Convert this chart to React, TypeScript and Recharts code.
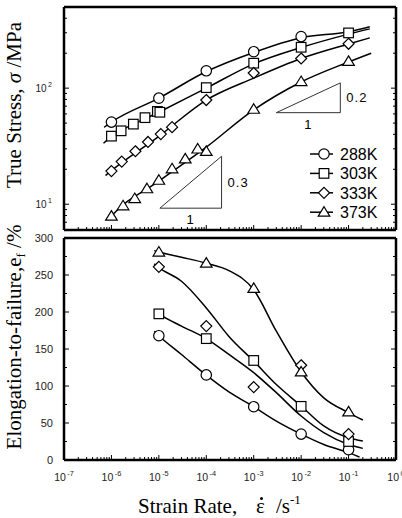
import React from 'react';
import { ComposedChart, Line, Scatter, XAxis, YAxis, ReferenceLine, ReferenceDot, Legend } from 'recharts';

const SANS = '"Liberation Sans", Arial, sans-serif';
const SERIF = '"Liberation Serif", "Times New Roman", serif';

const temps = ['288K', '303K', '333K', '373K'];
const kinds = ['circle', 'square', 'diamond', 'triangle'];

// top panel: true stress (MPa), measured points
const stress288X = [1e-6, 1e-5, 1e-4, 1e-3, 1e-2];
const stress288Y = [51, 82, 141, 206, 278];
const stress303X = [1e-6, 1.6e-6, 2.9e-6, 5.1e-6, 9.3e-6, 1.05e-5, 1e-4, 1e-3, 1e-2, 1e-1];
const stress303Y = [38.6, 42.9, 49, 55.7, 63, 62, 101, 164, 225, 299];
const stress333X = [1e-6, 1.65e-6, 3.2e-6, 5.9e-6, 1.1e-5, 1.9e-5, 1e-4, 1e-3, 1e-2, 1e-1];
const stress333Y = [19.3, 23.3, 28.6, 34.4, 40.2, 46.1, 79, 135, 180, 241];
const stress373X = [1e-6, 1.76e-6, 3.1e-6, 5.6e-6, 1e-5, 1.9e-5, 3.6e-5, 6.6e-5, 1e-4, 1e-3, 1e-2, 1e-1];
const stress373Y = [7.9, 9.7, 11.2, 13.6, 16.1, 20.2, 24.6, 29.9, 28.5, 65.8, 114, 170];

// top panel: fitted curves
const fit288TopX = [7e-7, 1e-6, 1e-5, 1e-4, 1e-3, 1e-2, 1e-1, 0.28];
const fit288TopY = [46, 51, 82, 139, 203, 272, 306, 338];
const fit303TopX = [6.8e-7, 1e-6, 1e-5, 1e-4, 1e-3, 1e-2, 1e-1, 0.28];
const fit303TopY = [33.5, 38, 62, 100, 162, 224, 292, 324];
const fit333TopX = [7.5e-7, 1e-6, 1e-5, 1e-4, 1e-3, 1e-2, 1e-1, 0.28];
const fit333TopY = [17.7, 19.5, 38.5, 79, 122, 180, 240, 271];
const fit373TopX = [8.5e-7, 1e-6, 1e-5, 1e-4, 1e-3, 1e-2, 1e-1, 0.3];
const fit373TopY = [7.3, 7.9, 15.8, 31, 65, 113, 168, 200];

// bottom panel: elongation-to-failure (%), measured points
const elongX = [1e-5, 1e-4, 1e-3, 1e-2, 1e-1];
const elong288 = [168, 115, 72, 35, 14];
const elong303 = [197.5, 164, 134.5, 72.5, 25];
const elong333 = [261, 181, 98.5, 128, 35];
const elong373 = [281, 266, 232, 119, 65];

// bottom panel: fitted curves
const fitBotX = [8e-6, 1e-5, 3e-5, 1e-4, 3e-4, 1e-3, 3e-3, 1e-2, 3e-2, 1e-1, 0.2];
const fit288BotX = [8e-6, 1e-5, 3e-5, 1e-4, 3e-4, 1e-3, 3e-3, 1e-2, 3e-2, 1e-1, 0.17];
const fit288Bot = [174, 168, 142.6, 114.7, 92, 72, 52.6, 35, 21, 10, 4];
const fit303Bot = [202, 197.5, 181, 164, 142.6, 118, 91, 59.4, 37, 21, 15.7];
const fit333Bot = [265, 260, 241.5, 205.5, 167, 133.6, 102, 73, 46, 30, 25.6];
const fit373Bot = [283, 281, 274, 266, 256, 230, 174, 119, 84, 64, 54];

// slope triangles
const tri02 = { x1: 3e-3, x2: 6.7e-2, y1: 61.5, y2: 111, xm: 1.42e-2, ym: 82.5 };
const tri03 = { x1: 1.05e-5, x2: 2.1e-4, y1: 9.25, y2: 25.9, xm: 4.7e-5, ym: 15.5 };

// tick values
const xDomain: [number, number] = [1e-7, 1];
const xTicks: number[] = [];
for (let e = -7; e < 0; e++) for (let k = 1; k < 10; k++) xTicks.push(Number((k * 10 ** e).toPrecision(2)));
xTicks.push(1);
const stressTicks = [6, 7, 8, 9, 10, 20, 30, 40, 50, 60, 70, 80, 90, 100, 200, 300, 400];
const elongTicks = [0, 25, 50, 75, 100, 125, 150, 175, 200, 225, 250, 275, 300];
const elongLabels = [0, 50, 100, 150, 200, 250, 300];

const zip = (xs: number[], ys: number[]) => xs.map((x, i) => ({ x, y: ys[i] }));
const isDecade = (v: number) => Math.abs(Math.log10(v) - Math.round(Math.log10(v))) < 1e-6;

const frame = { stroke: '#000', strokeWidth: 2.5 };

function marker(kind: string, cx: number, cy: number) {
  const p = { fill: '#fff', stroke: '#000', strokeWidth: 1.2 };
  if (kind === 'circle') return <circle cx={cx} cy={cy} r={5.2} {...p} />;
  if (kind === 'square') return <rect x={cx - 4.8} y={cy - 4.8} width={9.6} height={9.6} {...p} />;
  if (kind === 'diamond')
    return <polygon points={`${cx},${cy - 5.5} ${cx + 5.5},${cy} ${cx},${cy + 5.5} ${cx - 5.5},${cy}`} {...p} />;
  return <polygon points={`${cx},${cy - 5.5} ${cx + 5.8},${cy + 4} ${cx - 5.8},${cy + 4}`} {...p} />;
}

const shapeFor = (kind: string) => (props: any) => marker(kind, props.cx, props.cy);

function Pow({ x, y, exp, anchor, size }: { x: number; y: number; exp: string; anchor: string; size: number }) {
  return (
    <text x={x} y={y} textAnchor={anchor} fontFamily={SANS} fill="#222">
      <tspan fontSize={size}>10</tspan>
      <tspan fontSize={size * 0.7} dx={1.5} dy={-5}>{exp}</tspan>
    </text>
  );
}

const xTickBottom = (withLabel: boolean) => (props: any) => {
  const { x, y, payload } = props;
  const major = isDecade(payload.value);
  return (
    <g>
      <line x1={x} x2={x} y1={y} y2={y - (major ? 5 : 3)} stroke="#000" strokeWidth={1} />
      {withLabel && major && (
        <Pow x={x} y={y + 21} exp={String(Math.round(Math.log10(payload.value)))} anchor="middle" size={10.5} />
      )}
    </g>
  );
};

const xTickTop = (props: any) => {
  const { x, y, payload } = props;
  const major = isDecade(payload.value);
  return <line x1={x} x2={x} y1={y} y2={y + (major ? 5 : 3)} stroke="#000" strokeWidth={1} />;
};

const stressTickLeft = (props: any) => {
  const { x, y, payload } = props;
  const major = isDecade(payload.value);
  return (
    <g>
      <line x1={x} x2={x + (major ? 5 : 3)} y1={y} y2={y} stroke="#000" strokeWidth={1} />
      {major && <Pow x={x - 12} y={y + 4} exp={String(Math.round(Math.log10(payload.value)))} anchor="end" size={10} />}
    </g>
  );
};

const stressTickRight = (props: any) => {
  const { x, y, payload } = props;
  const major = isDecade(payload.value);
  return <line x1={x} x2={x - (major ? 5 : 3)} y1={y} y2={y} stroke="#000" strokeWidth={1} />;
};

const elongTickLeft = (props: any) => {
  const { x, y, payload } = props;
  const major = elongLabels.includes(payload.value);
  return (
    <g>
      <line x1={x} x2={x + (major ? 5 : 3)} y1={y} y2={y} stroke="#000" strokeWidth={1} />
      {major && (
        <text x={x - 11} y={y + 4} textAnchor="end" fontFamily={SANS} fontSize={11} fill="#222">
          {payload.value}
        </text>
      )}
    </g>
  );
};

const elongTickRight = (props: any) => {
  const { x, y, payload } = props;
  const major = elongLabels.includes(payload.value);
  return <line x1={x} x2={x - (major ? 5 : 3)} y1={y} y2={y} stroke="#000" strokeWidth={1} />;
};

const LegendBox = () => (
  <svg width={95} height={80}>
    {temps.map((t, i) => (
      <g key={t} transform={`translate(0, ${10 + i * 19.4})`}>
        <line x1={5} x2={28} y1={0} y2={0} stroke="#000" strokeWidth={1.5} />
        {marker(kinds[i], 19, 0)}
        <text x={35} y={6} fontFamily={SANS} fontSize={16} fill="#000">{t}</text>
      </g>
    ))}
  </svg>
);

const topPoints = [zip(stress288X, stress288Y), zip(stress303X, stress303Y), zip(stress333X, stress333Y), zip(stress373X, stress373Y)];
const topFits = [zip(fit288TopX, fit288TopY), zip(fit303TopX, fit303TopY), zip(fit333TopX, fit333TopY), zip(fit373TopX, fit373TopY)];
const botPoints = [zip(elongX, elong288), zip(elongX, elong303), zip(elongX, elong333), zip(elongX, elong373)];
const botFits = [zip(fit288BotX, fit288Bot), zip(fitBotX, fit303Bot), zip(fitBotX, fit333Bot), zip(fitBotX, fit373Bot)];

const labelStyle = { fontSize: 13, fontFamily: SANS, fill: '#000', letterSpacing: 1 };

function TopPanel() {
  return (
    <ComposedChart width={402} height={240} margin={{ top: 0, right: 0, bottom: 0, left: 0 }}>
      <XAxis dataKey="x" type="number" scale="log" domain={xDomain} allowDataOverflow ticks={xTicks} interval={0}
        height={10} tickSize={0} tickMargin={0} tickLine={false} axisLine={frame} tick={xTickBottom(false)} />
      <XAxis xAxisId="top" orientation="top" type="number" scale="log" domain={xDomain} allowDataOverflow ticks={xTicks}
        interval={0} height={7} tickSize={0} tickMargin={0} tickLine={false} axisLine={frame} tick={xTickTop} />
      <YAxis dataKey="y" type="number" scale="log" domain={[6, 500]} allowDataOverflow ticks={stressTicks} interval={0}
        width={64} tickSize={0} tickMargin={0} tickLine={false} axisLine={frame} tick={stressTickLeft} />
      <YAxis yAxisId="right" orientation="right" type="number" scale="log" domain={[6, 500]} allowDataOverflow
        ticks={stressTicks} interval={0} width={6} tickSize={0} tickMargin={0} tickLine={false} axisLine={frame}
        tick={stressTickRight} />
      {[tri02, tri03].map((t, i) => (
        <React.Fragment key={i}>
          <ReferenceLine segment={[{ x: t.x1, y: t.y1 }, { x: t.x2, y: t.y1 }]} stroke="#333" strokeWidth={1} />
          <ReferenceLine segment={[{ x: t.x2, y: t.y1 }, { x: t.x2, y: t.y2 }]} stroke="#333" strokeWidth={1} />
          <ReferenceLine segment={[{ x: t.x1, y: t.y1 }, { x: t.x2, y: t.y2 }]} stroke="#333" strokeWidth={1} />
          <ReferenceDot x={t.x2} y={t.ym} r={0} fill="none" stroke="none"
            label={{ value: i === 0 ? '0.2' : '0.3', position: 'right', offset: 6, fill: '#000', style: labelStyle }} />
          <ReferenceDot x={t.xm} y={t.y1} r={0} fill="none" stroke="none"
            label={{ value: '1', position: 'bottom', offset: 7, fill: '#000', style: labelStyle }} />
        </React.Fragment>
      ))}
      {topFits.map((d, i) => (
        <Line key={`f${i}`} data={d} dataKey="y" type="monotone" stroke="#000" strokeWidth={1.5} dot={false}
          isAnimationActive={false} legendType="none" />
      ))}
      {topPoints.map((d, i) => (
        <Scatter key={`p${i}`} name={temps[i]} data={d} shape={shapeFor(kinds[i])} isAnimationActive={false} />
      ))}
      <Legend layout="vertical" align="center" verticalAlign="middle" content={<LegendBox />}
        wrapperStyle={{ left: 305, top: 144, width: 95, height: 80 }} />
    </ComposedChart>
  );
}

function BottomPanel() {
  return (
    <ComposedChart width={402} height={288} margin={{ top: 0, right: 0, bottom: 0, left: 0 }}>
      <XAxis dataKey="x" type="number" scale="log" domain={xDomain} allowDataOverflow ticks={xTicks} interval={0}
        height={58} tickSize={0} tickMargin={0} tickLine={false} axisLine={frame} tick={xTickBottom(true)} />
      <XAxis xAxisId="top" orientation="top" type="number" scale="log" domain={xDomain} allowDataOverflow ticks={xTicks}
        interval={0} height={8} tickSize={0} tickMargin={0} tickLine={false} axisLine={frame} tick={xTickTop} />
      <YAxis dataKey="y" type="number" domain={[0, 300]} allowDataOverflow ticks={elongTicks} interval={0}
        width={64} tickSize={0} tickMargin={0} tickLine={false} axisLine={frame} tick={elongTickLeft} />
      <YAxis yAxisId="right" orientation="right" type="number" domain={[0, 300]} allowDataOverflow ticks={elongTicks}
        interval={0} width={6} tickSize={0} tickMargin={0} tickLine={false} axisLine={frame} tick={elongTickRight} />
      {botFits.map((d, i) => (
        <Line key={`f${i}`} data={d} dataKey="y" type="monotone" stroke="#000" strokeWidth={1.5} dot={false}
          isAnimationActive={false} />
      ))}
      {botPoints.map((d, i) => (
        <Scatter key={`p${i}`} name={temps[i]} data={d} shape={shapeFor(kinds[i])} isAnimationActive={false} />
      ))}
    </ComposedChart>
  );
}

export default function App() {
  return (
    <div style={{ position: 'absolute', left: 0, top: 0, width: 402, height: 518, background: '#fff', overflow: 'hidden' }}>
      <div style={{ position: 'absolute', left: 0, top: 0 }}>
        <TopPanel />
      </div>
      <div style={{ position: 'absolute', left: 0, top: 230 }}>
        <BottomPanel />
      </div>
      <svg width={402} height={518} style={{ position: 'absolute', left: 0, top: 0, pointerEvents: 'none' }}>
        <text transform="translate(21,105) rotate(-90)" textAnchor="middle" fontFamily={SERIF} fontSize={21} fill="#000">
          True Stress, <tspan fontStyle="italic">σ</tspan> /MPa
        </text>
        <text transform="translate(20.5,337) rotate(-90)" textAnchor="middle" fontFamily={SERIF} fontSize={21} fill="#000">
          Elongation-to-failure,e<tspan fontSize={13} dy={4}>f</tspan><tspan dy={-4}> /%</tspan>
        </text>
        <text x={138} y={513} fontFamily={SERIF} fontSize={21} fill="#000">Strain Rate,</text>
        <text x={256} y={513} fontFamily={SERIF} fontSize={21} fill="#000">ε</text>
        <circle cx={261.5} cy={498.5} r={1.5} fill="#000" />
        <text x={276} y={513} fontFamily={SERIF} fontSize={21} fill="#000">
          /s<tspan fontSize={13} dy={-9}>-1</tspan>
        </text>
      </svg>
    </div>
  );
}
